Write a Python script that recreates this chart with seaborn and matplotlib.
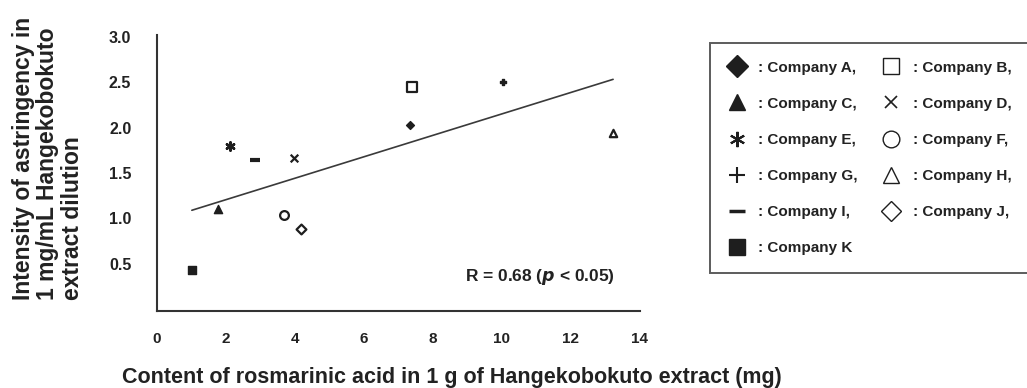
import matplotlib
matplotlib.use("Agg")
import matplotlib.pyplot as plt
import seaborn as sns
import pandas as pd
import numpy as np
from matplotlib.lines import Line2D

sns.set_theme(style="white")
plt.rcParams['font.family'] = ['Liberation Sans', 'DejaVu Sans']
plt.rcParams['font.weight'] = 'bold'

# ---- data ----
companies = ["A", "B", "C", "D", "E", "F", "G", "H", "I", "J", "K"]
rosmarinic = [7.32, 7.40, 1.76, 3.98, 2.13, 3.69, 10.02, 13.22, 2.84, 4.18, 1.01]
astringency = [2.03, 2.45, 1.10, 1.66, 1.80, 1.03, 2.50, 1.94, 1.64, 0.88, 0.43]
legend_labels = [": Company A,", ": Company B,", ": Company C,", ": Company D,",
                 ": Company E,", ": Company F,", ": Company G,", ": Company H,",
                 ": Company I,", ": Company J,", ": Company K"]
x_ticks = [0, 2, 4, 6, 8, 10, 12, 14]
y_ticks = [0.5, 1.0, 1.5, 2.0, 2.5, 3.0]

df = pd.DataFrame({"company": companies, "x": rosmarinic, "y": astringency})

INK = "#1e1e1e"
asterisk = (6, 2, 0)
# marker, filled, plot size (pt^2), legend size, lw
style = {
    "A": ("D", True, 16, 9, 1.0),
    "B": ("s", False, 45, 10, 1.6),
    "C": ("^", True, 35, 10, 1.0),
    "D": ("x", False, 30, 8, 1.6),
    "E": (asterisk, False, 35, 10, 1.8),
    "F": ("o", False, 40, 10, 1.6),
    "G": ("P", True, 16, 9, 1.0),
    "H": ("^", False, 28, 10, 1.6),
    "I": ("_", False, 50, 9, 3.0),
    "J": ("D", False, 25, 9, 1.6),
    "K": ("s", True, 35, 10, 1.0),
}

fig = plt.figure(figsize=(10.27, 3.88), dpi=100)
ax = fig.add_axes([157/1027, 1-311/388, (640-157)/1027, (311-35)/388])

sns.regplot(data=df, x="x", y="y", ax=ax, ci=None, scatter=False, truncate=True,
            line_kws=dict(color="#3a3a3a", lw=1.2))

for c in companies:
    m, filled, s, _, lw = style[c]
    sub = df[df.company == c]
    if m in ("x", "_") or m == asterisk:
        sns.scatterplot(data=sub, x="x", y="y", ax=ax, marker=m, s=s,
                        color=INK, linewidth=lw, legend=False, zorder=3)
    else:
        sns.scatterplot(data=sub, x="x", y="y", ax=ax, marker=m, s=s,
                        facecolor=INK if filled else "white",
                        edgecolor=INK, linewidth=lw, legend=False, zorder=3)

ax.set_xlim(0, 14)
ax.set_ylim(-0.024, 3.022)
ax.set_xticks(x_ticks)
ax.set_yticks(y_ticks)
ax.set_xticklabels([str(t) for t in x_ticks], fontsize=11, fontweight="bold", color="#222222")
ax.set_yticklabels([f"{t:.1f}" for t in y_ticks], fontsize=11.5, fontweight="bold", color="#222222")
ax.tick_params(axis="both", direction="in", length=3, width=1, color="#333333")
ax.tick_params(axis="x", pad=15)
ax.tick_params(axis="y", pad=18.5)
ax.set_xlabel("")
ax.set_ylabel("")
sns.despine(ax=ax)
for sp in ("left", "bottom"):
    ax.spines[sp].set_color("#333333")
    ax.spines[sp].set_linewidth(1.5)

ax.text(13.27, 0.35, "R = 0.68 ($\\mathbf{\\mathit{p}}$ < 0.05)", ha="right", va="center",
        fontsize=12.5, fontweight="bold", color="#222222")

fig.text(122/1027, 1-377/388, "Content of rosmarinic acid in 1 g of Hangekobokuto extract (mg)",
         ha="left", va="center", fontsize=15.5, fontweight="bold", color="#222222")
fig.text(48/1027, 1-300/388, "Intensity of astringency in\n1 mg/mL Hangekobokuto\nextract dilution",
         rotation=90, ha="center", va="bottom", multialignment="left",
         fontsize=16.5, fontweight="bold", color="#222222", linespacing=1.1)

order = ["A", "C", "E", "G", "I", "K", "B", "D", "F", "H", "J"]
handles, labels = [], []
for c in order:
    m, filled, _, ms, lw = style[c]
    i = companies.index(c)
    if c == "G":
        h = Line2D([], [], ls="none", marker="+", ms=11, mew=1.5, color=INK)
    elif c == "H":
        h = Line2D([], [], ls="none", marker="^", ms=12, mew=1.0, mfc="white", mec=INK)
    elif c == "E":
        h = Line2D([], [], ls="none", marker=asterisk, ms=11, mew=1.5, color=INK)
    elif c == "I":
        h = Line2D([], [], ls="none", marker="_", ms=11, mew=2.5, color=INK)
    elif c == "D":
        h = Line2D([], [], ls="none", marker="x", ms=9, mew=1.2, color=INK)
    elif c == "F":
        h = Line2D([], [], ls="none", marker="o", ms=12, mew=1.0, mfc="white", mec=INK)
    elif c in ("B",):
        h = Line2D([], [], ls="none", marker="s", ms=12, mew=1.0, mfc="white", mec=INK)
    elif c == "J":
        h = Line2D([], [], ls="none", marker="D", ms=10, mew=1.0, mfc="white", mec=INK)
    else:
        h = Line2D([], [], ls="none", marker=m, ms=ms + 2, mew=1.0, mfc=INK, mec=INK)
    handles.append(h)
    labels.append(legend_labels[i])

leg = fig.legend(handles, labels, ncol=2, loc="upper left",
                 bbox_to_anchor=(710/1027, 1-43/388), frameon=True, fancybox=False,
                 prop=dict(family="Liberation Sans", weight="bold", size=11),
                 labelspacing=1.45, handletextpad=0.8, columnspacing=1.6,
                 borderpad=1.15, handlelength=1.2, borderaxespad=0)
leg.get_frame().set_edgecolor("#333333")
leg.get_frame().set_linewidth(1.4)
for t in leg.get_texts():
    t.set_color("#222222")

fig.savefig("out.png", dpi=100)
